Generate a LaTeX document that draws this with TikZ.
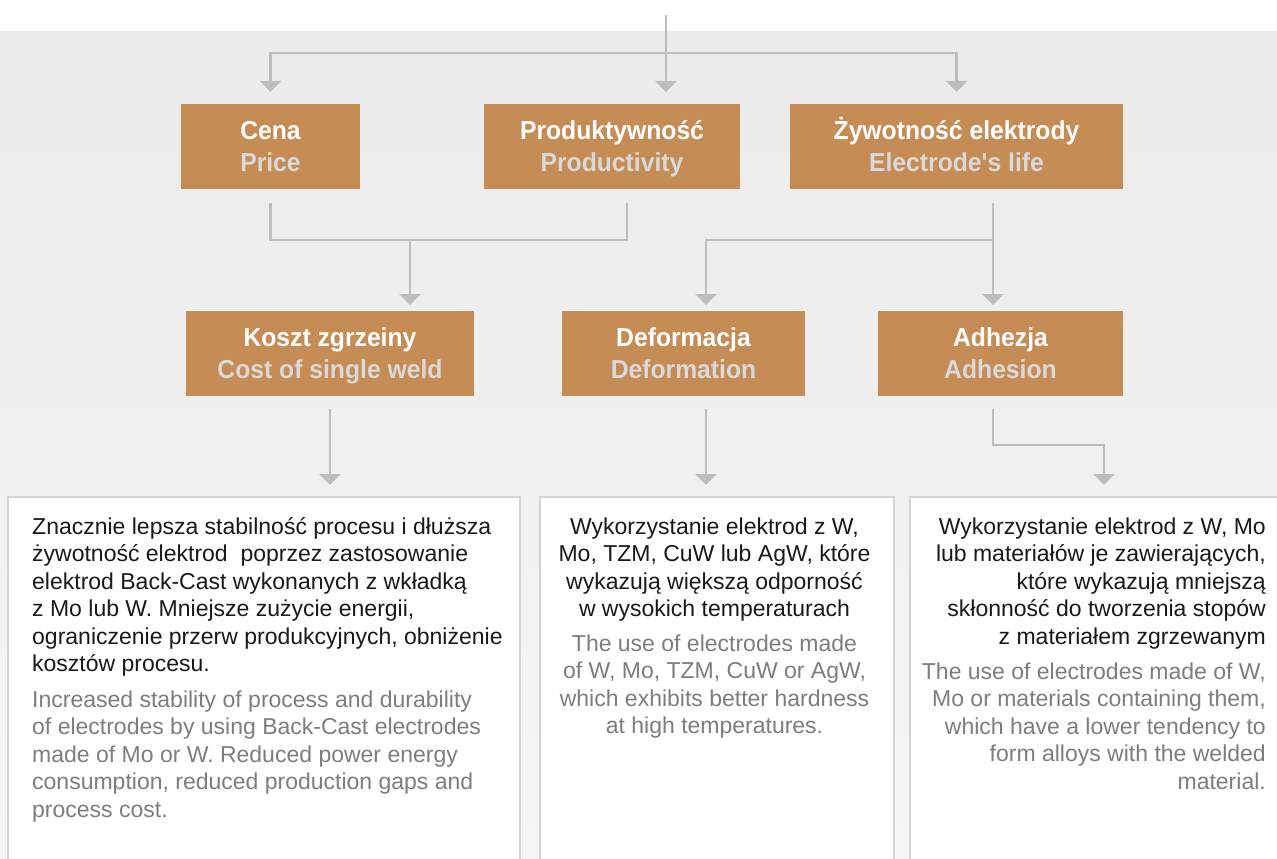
\documentclass[tikz,border=0pt]{standalone}
\usepackage{fontspec}
\setmainfont{Liberation Sans}
\newfontfamily\headfont{Liberation Sans}[FakeStretch=0.95]
\usetikzlibrary{arrows.meta}
\definecolor{boxc}{RGB}{198,140,86}
\definecolor{subc}{RGB}{217,217,217}
\definecolor{linec}{RGB}{189,189,189}
\definecolor{bandtop}{RGB}{235,235,235}
\definecolor{bandbot}{RGB}{245,245,245}
\definecolor{plc}{RGB}{25,25,25}
\definecolor{enc}{RGB}{125,125,125}
\definecolor{bordc}{RGB}{212,212,212}
\begin{document}
\begin{tikzpicture}[x=1pt,y=-1pt,
  cbox/.style={fill=boxc, draw=none, inner sep=0pt, outer sep=0pt, anchor=north west},
  ttl/.style={font=\headfont\bfseries\fontsize{26}{32}\selectfont, text=white, anchor=base, inner sep=0pt},
  subt/.style={ttl, text=subc},
  ln/.style={draw=linec, line width=2.5pt},
  arr/.style={ln, -{Triangle[width=21pt,length=11pt]}},
  wbox/.style={fill=white, draw=bordc, line width=1.5pt, anchor=north west, inner sep=0pt, outer sep=0pt},
  pl/.style={font=\fontsize{23}{27.5}\selectfont, text=plc, inner sep=0pt},
  en/.style={pl, text=enc}]
\useasboundingbox (0,0) rectangle (1277,859);
\fill[white] (0,0) rectangle (1277,859);
\shade[top color=bandtop, bottom color=bandbot] (0,32) rectangle (1277,859);

% top row boxes
\node[cbox, minimum width=179pt, minimum height=85pt] (cena) at (181,104) {};
\node[cbox, minimum width=256pt, minimum height=85pt] (prod) at (484,104) {};
\node[cbox, minimum width=333pt, minimum height=85pt] (zyw) at (790,104) {};
\node[ttl] (cenaT) at ([yshift=-35pt]cena.north) {Cena};
\node[subt] (cenaS) at ([yshift=-67pt]cena.north) {Price};
\node[ttl] (prodT) at ([yshift=-35pt]prod.north) {Produktywność};
\node[subt] (prodS) at ([yshift=-67pt]prod.north) {Productivity};
\node[ttl] (zywT) at ([yshift=-35pt]zyw.north) {Żywotność elektrody};
\node[subt] (zywS) at ([yshift=-67pt]zyw.north) {Electrode's life};

% second row boxes
\node[cbox, minimum width=288pt, minimum height=85pt] (koszt) at (186,311) {};
\node[cbox, minimum width=243pt, minimum height=85pt] (deform) at (562,311) {};
\node[cbox, minimum width=245pt, minimum height=85pt] (adh) at (878,311) {};
\node[ttl] (kosztT) at ([yshift=-35pt]koszt.north) {Koszt zgrzeiny};
\node[subt] (kosztS) at ([yshift=-67pt]koszt.north) {Cost of single weld};
\node[ttl] (deformT) at ([yshift=-35pt]deform.north) {Deformacja};
\node[subt] (deformS) at ([yshift=-67pt]deform.north) {Deformation};
\node[ttl] (adhT) at ([yshift=-35pt]adh.north) {Adhezja};
\node[subt] (adhS) at ([yshift=-67pt]adh.north) {Adhesion};

% bottom boxes
\begin{scope}
\clip (0,0) rectangle (1277,859);
\node[wbox, minimum width=512pt, minimum height=420pt] (b1) at (8,497) {};
\node[wbox, minimum width=354pt, minimum height=420pt] (b2) at (540,497) {};
\node[wbox, minimum width=420pt, minimum height=420pt] (b3) at (910,497) {};
\end{scope}

% connectors
\coordinate (src) at (666,15);
\coordinate (j1) at (666,53);
\draw[ln] (src) -- (j1);
\draw[arr, shorten >=12pt] (j1) -| (cena.north);
\draw[arr, shorten >=12pt] (j1) -- (j1 |- prod.north);
\draw[arr, shorten >=12pt] (j1) -| (zyw.north);

\coordinate (pb) at (627,203);
\coordinate (m1) at (410,240);
\draw[ln, shorten <=14pt] (cena.south) |- (m1);
\draw[ln] (pb) |- (m1);
\draw[arr, shorten >=6pt] (m1) -- (m1 |- koszt.north);

\coordinate (zb) at (993,203);
\coordinate (m2) at (993,240);
\coordinate (dt) at (706,311);
\draw[arr, shorten >=6pt] (zb) -- (zb |- adh.north);
\draw[arr, shorten >=6pt] (m2) -| (dt);

\draw[arr, shorten <=13pt, shorten >=12pt] (koszt.south) -- (koszt.south |- b1.north);
\coordinate (d2) at (706,409);
\draw[arr, shorten >=12pt] (d2) -- (d2 |- b2.north);
\coordinate (a2) at (993,409);
\coordinate (a3) at (1104,445);
\draw[arr, shorten >=12pt] (a2) |- (a3) -- (a3 |- b3.north);

% texts (base anchor = baseline of last line)
\node[pl, align=left, anchor=base west] (t1p) at (32,671.5) {Znacznie lepsza stabilność procesu i dłuższa\\żywotność elektrod\ \ poprzez zastosowanie\\elektrod Back-Cast wykonanych z wkładką\\z Mo lub W. Mniejsze zużycie energii,\\ograniczenie przerw produkcyjnych, obniżenie\\kosztów procesu.};
\node[en, align=left, anchor=base west] (t1e) at (32,817) {Increased stability of process and durability\\of electrodes by using Back-Cast electrodes\\made of Mo or W. Reduced power energy\\consumption, reduced production gaps and\\process cost.};
\node[pl, align=center, anchor=base] (t2p) at (714.5,616.5) {Wykorzystanie elektrod z W,\\Mo, TZM, CuW lub AgW, które\\wykazują większą odporność\\w wysokich temperaturach};
\node[en, align=center, anchor=base] (t2e) at (714.5,733.5) {The use of electrodes made\\of W, Mo, TZM, CuW or AgW,\\which exhibits better hardness\\at high temperatures.};
\node[pl, align=right, anchor=base east] (t3p) at (1266,644) {Wykorzystanie elektrod z W, Mo\\lub materiałów je zawierających,\\które wykazują mniejszą\\skłonność do tworzenia stopów\\z materiałem zgrzewanym};
\node[en, align=right, anchor=base east] (t3e) at (1266,789) {The use of electrodes made of W,\\Mo or materials containing them,\\which have a lower tendency to\\form alloys with the welded\\material.};
\end{tikzpicture}
\end{document}
